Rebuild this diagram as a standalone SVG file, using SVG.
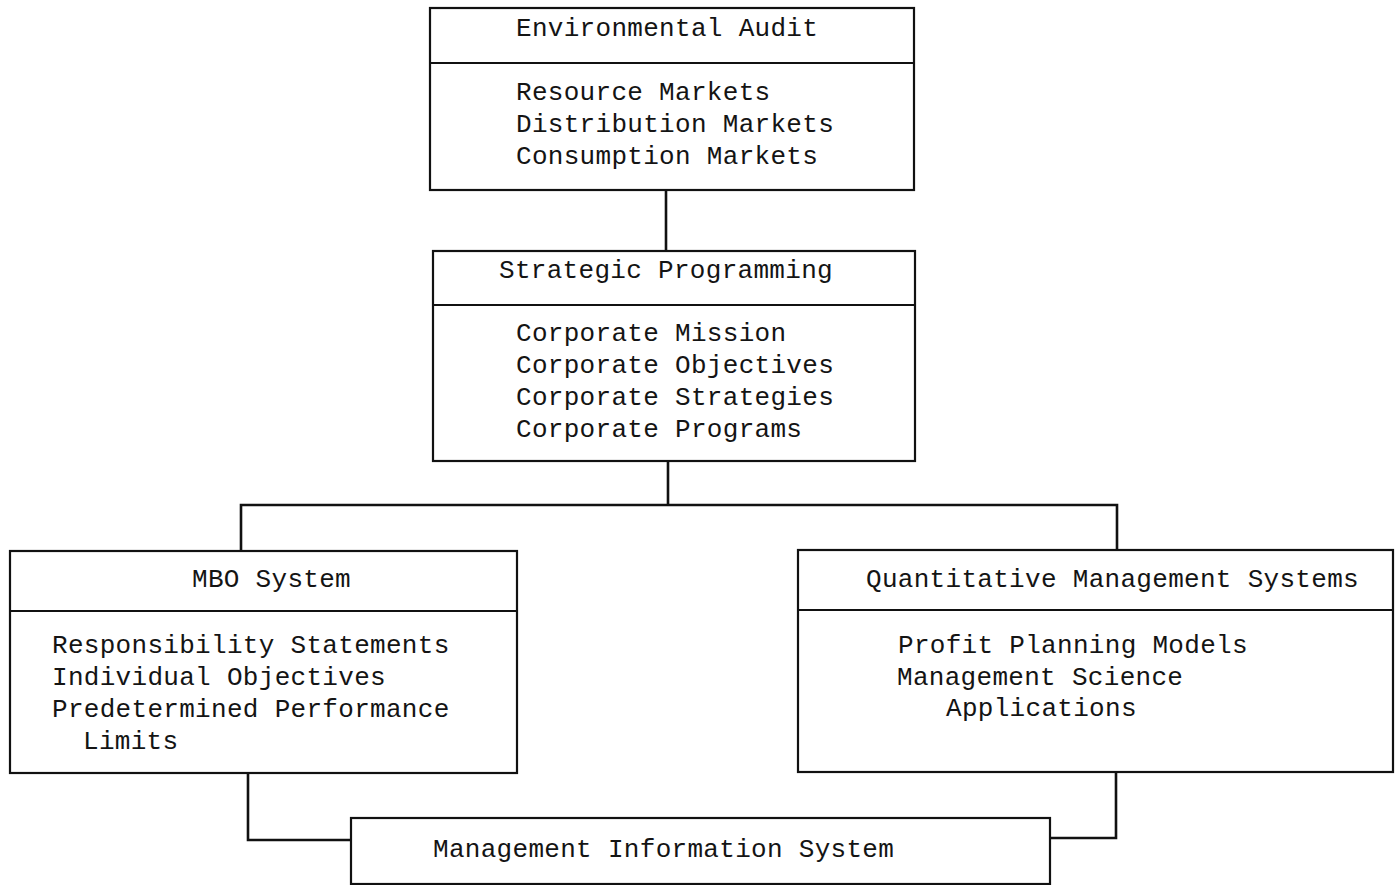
<svg xmlns="http://www.w3.org/2000/svg" width="1399" height="885" viewBox="0 0 1399 885">
  <style>
    .box { fill: #fff; stroke: #111; stroke-width: 2.2; }
    .div { stroke: #111; stroke-width: 2; }
    .conn { fill: none; stroke: #111; stroke-width: 2.6; }
    text { font-family: "Liberation Mono", "DejaVu Sans Mono", monospace; font-size: 26px; letter-spacing: 0.3px; fill: #141414; }
  </style>
  <rect width="1399" height="885" fill="#fff"/>

  <!-- connectors -->
  <g id="connectors">
    <path class="conn" d="M666 190 V251"/>
    <path class="conn" d="M668 460 V505 M241 551 V505 H1117 V551"/>
    <path class="conn" d="M248 773 V840 H350"/>
    <path class="conn" d="M1116 772 V838 H1050"/>
  </g>

  <g id="environmental-audit">
    <rect class="box" x="430" y="8" width="484" height="182"/>
    <line class="div" x1="430" y1="63" x2="914" y2="63"/>
    <text x="516" y="36">Environmental Audit</text>
    <text x="516" y="100">Resource Markets</text>
    <text x="516" y="132">Distribution Markets</text>
    <text x="516" y="164">Consumption Markets</text>
  </g>

  <g id="strategic-programming">
    <rect class="box" x="433" y="251" width="482" height="210"/>
    <line class="div" x1="433" y1="305" x2="915" y2="305"/>
    <text x="499" y="278">Strategic Programming</text>
    <text x="516" y="341">Corporate Mission</text>
    <text x="516" y="373">Corporate Objectives</text>
    <text x="516" y="405">Corporate Strategies</text>
    <text x="516" y="437">Corporate Programs</text>
  </g>

  <g id="mbo-system">
    <rect class="box" x="10" y="551" width="507" height="222"/>
    <line class="div" x1="10" y1="611" x2="517" y2="611"/>
    <text x="192" y="587">MBO System</text>
    <text x="52" y="653">Responsibility Statements</text>
    <text x="52" y="685">Individual Objectives</text>
    <text x="52" y="717">Predetermined Performance</text>
    <text x="83" y="749">Limits</text>
  </g>

  <g id="quantitative-management-systems">
    <rect class="box" x="798" y="550" width="595" height="222"/>
    <line class="div" x1="798" y1="610" x2="1393" y2="610"/>
    <text x="866" y="587">Quantitative Management Systems</text>
    <text x="898" y="653">Profit Planning Models</text>
    <text x="897" y="685">Management Science</text>
    <text x="946" y="716">Applications</text>
  </g>

  <g id="management-information-system">
    <rect class="box" x="351" y="818" width="699" height="66"/>
    <text x="433" y="857">Management Information System</text>
  </g>
</svg>
